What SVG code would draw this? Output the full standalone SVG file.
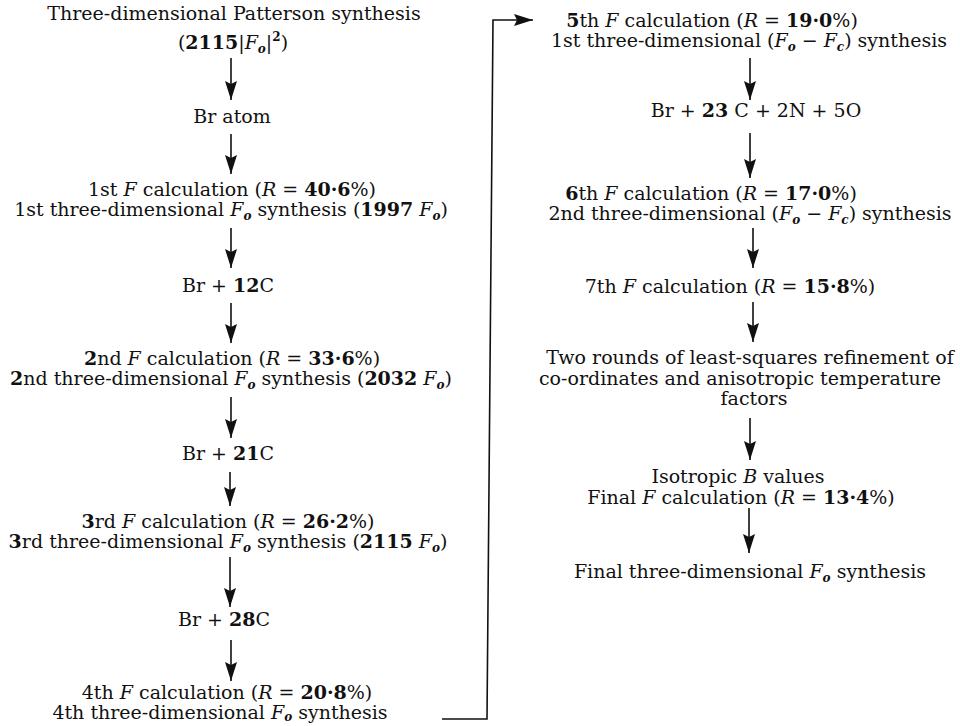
<svg xmlns="http://www.w3.org/2000/svg" width="960" height="726" viewBox="0 0 960 726">
<defs>
<style>
text{font-family:"DejaVu Serif","Liberation Serif",serif;font-size:19px;fill:#111;text-anchor:middle}
.i{font-style:italic}
.b{font-weight:bold}
.s{font-size:12px;font-style:italic;font-weight:bold}
.c{fill:none;stroke:#111;stroke-width:1.6}
</style>
<marker id="ah" markerUnits="userSpaceOnUse" markerWidth="19" markerHeight="13" refX="19" refY="6.5" orient="auto" viewBox="0 0 19 13">
<path d="M0,0.5 L19,6.5 L0,12.5 L3,6.5 Z" fill="#111"/>
</marker>
</defs>
<rect width="960" height="726" fill="#fff"/>
<g id="connectors">
<path class="c" marker-end="url(#ah)" d="M231,58 V100"/>
<path class="c" marker-end="url(#ah)" d="M231,134 V174"/>
<path class="c" marker-end="url(#ah)" d="M231,228 V268"/>
<path class="c" marker-end="url(#ah)" d="M231,303 V343"/>
<path class="c" marker-end="url(#ah)" d="M231,397 V438"/>
<path class="c" marker-end="url(#ah)" d="M230,472 V506"/>
<path class="c" marker-end="url(#ah)" d="M230,557 V607"/>
<path class="c" marker-end="url(#ah)" d="M231,640 V681"/>
<path class="c" marker-end="url(#ah)" d="M442,719 H487 L493,20 H533"/>
<path class="c" marker-end="url(#ah)" d="M750,58 V100"/>
<path class="c" marker-end="url(#ah)" d="M750,133 V178"/>
<path class="c" marker-end="url(#ah)" d="M753,228 V268"/>
<path class="c" marker-end="url(#ah)" d="M753,302 V342"/>
<path class="c" marker-end="url(#ah)" d="M750,418 V460"/>
<path class="c" marker-end="url(#ah)" d="M749,508 V553"/>
</g>
<g id="patterson">
<text x="234" y="20">Three-dimensional Patterson synthesis</text>
<text x="233" y="49">(<tspan class="b">2115</tspan>|<tspan class="i">F</tspan><tspan class="s" dy="4">o</tspan><tspan dy="-4">|</tspan><tspan font-size="12" font-weight="bold" dy="-8">2</tspan><tspan dy="8">)</tspan></text>
</g>
<g id="br-atom"><text x="232" y="123">Br atom</text></g>
<g id="calc1">
<text x="232" y="196">1st <tspan class="i">F</tspan> calculation (<tspan class="i">R</tspan> = <tspan class="b">40·6</tspan>%)</text>
<text x="231" y="216">1st three-dimensional <tspan class="i">F</tspan><tspan class="s" dy="4">o</tspan><tspan dy="-4"> synthesis (</tspan><tspan class="b">1997</tspan> <tspan class="i">F</tspan><tspan class="s" dy="4">o</tspan><tspan dy="-4">)</tspan></text>
</g>
<g id="br12c"><text x="228" y="292">Br + <tspan class="b">12</tspan>C</text></g>
<g id="calc2">
<text x="232" y="365"><tspan class="b">2</tspan>nd <tspan class="i">F</tspan> calculation (<tspan class="i">R</tspan> = <tspan class="b">33·6</tspan>%)</text>
<text x="231" y="385"><tspan class="b">2</tspan>nd three-dimensional <tspan class="i">F</tspan><tspan class="s" dy="4">o</tspan><tspan dy="-4"> synthesis (</tspan><tspan class="b">2032</tspan> <tspan class="i">F</tspan><tspan class="s" dy="4">o</tspan><tspan dy="-4">)</tspan></text>
</g>
<g id="br21c"><text x="228" y="460">Br + <tspan class="b">21</tspan>C</text></g>
<g id="calc3">
<text x="228" y="528"><tspan class="b">3</tspan>rd <tspan class="i">F</tspan> calculation (<tspan class="i">R</tspan> = <tspan class="b">26·2</tspan>%)</text>
<text x="228" y="548"><tspan class="b">3</tspan>rd three-dimensional <tspan class="i">F</tspan><tspan class="s" dy="4">o</tspan><tspan dy="-4"> synthesis (</tspan><tspan class="b">2115</tspan> <tspan class="i">F</tspan><tspan class="s" dy="4">o</tspan><tspan dy="-4">)</tspan></text>
</g>
<g id="br28c"><text x="224" y="626">Br + <tspan class="b">28</tspan>C</text></g>
<g id="calc4">
<text x="227" y="699">4th <tspan class="i">F</tspan> calculation (<tspan class="i">R</tspan> = <tspan class="b">20·8</tspan>%)</text>
<text x="220" y="719">4th three-dimensional <tspan class="i">F</tspan><tspan class="s" dy="2">o</tspan><tspan dy="-2"> synthesis</tspan></text>
</g>
<g id="calc5">
<text x="712" y="27"><tspan class="b">5</tspan>th <tspan class="i">F</tspan> calculation (<tspan class="i">R</tspan> = <tspan class="b">19·0</tspan>%)</text>
<text x="749" y="47">1st three-dimensional (<tspan class="i">F</tspan><tspan class="s" dy="4">o</tspan><tspan dy="-4"> − </tspan><tspan class="i">F</tspan><tspan class="s" dy="4">c</tspan><tspan dy="-4">) synthesis</tspan></text>
</g>
<g id="br23c"><text x="756" y="117">Br + <tspan class="b">23</tspan> C + 2N + 5O</text></g>
<g id="calc6">
<text x="711" y="200"><tspan class="b">6</tspan>th <tspan class="i">F</tspan> calculation (<tspan class="i">R</tspan> = <tspan class="b">17·0</tspan>%)</text>
<text x="750" y="220">2nd three-dimensional (<tspan class="i">F</tspan><tspan class="s" dy="4">o</tspan><tspan dy="-4"> − </tspan><tspan class="i">F</tspan><tspan class="s" dy="4">c</tspan><tspan dy="-4">) synthesis</tspan></text>
</g>
<g id="calc7"><text x="730" y="293">7th <tspan class="i">F</tspan> calculation (<tspan class="i">R</tspan> = <tspan class="b">15·8</tspan>%)</text></g>
<g id="least-squares">
<text x="750" y="364">Two rounds of least-squares refinement of</text>
<text x="740" y="385">co-ordinates and anisotropic temperature</text>
<text x="754" y="405">factors</text>
</g>
<g id="final-calc">
<text x="738" y="483">Isotropic <tspan class="i">B</tspan> values</text>
<text x="741" y="504">Final <tspan class="i">F</tspan> calculation (<tspan class="i">R</tspan> = <tspan class="b">13·4</tspan>%)</text>
</g>
<g id="final-synthesis">
<text x="750" y="578">Final three-dimensional <tspan class="i">F</tspan><tspan class="s" dy="4">o</tspan><tspan dy="-4"> synthesis</tspan></text>
</g>
</svg>
